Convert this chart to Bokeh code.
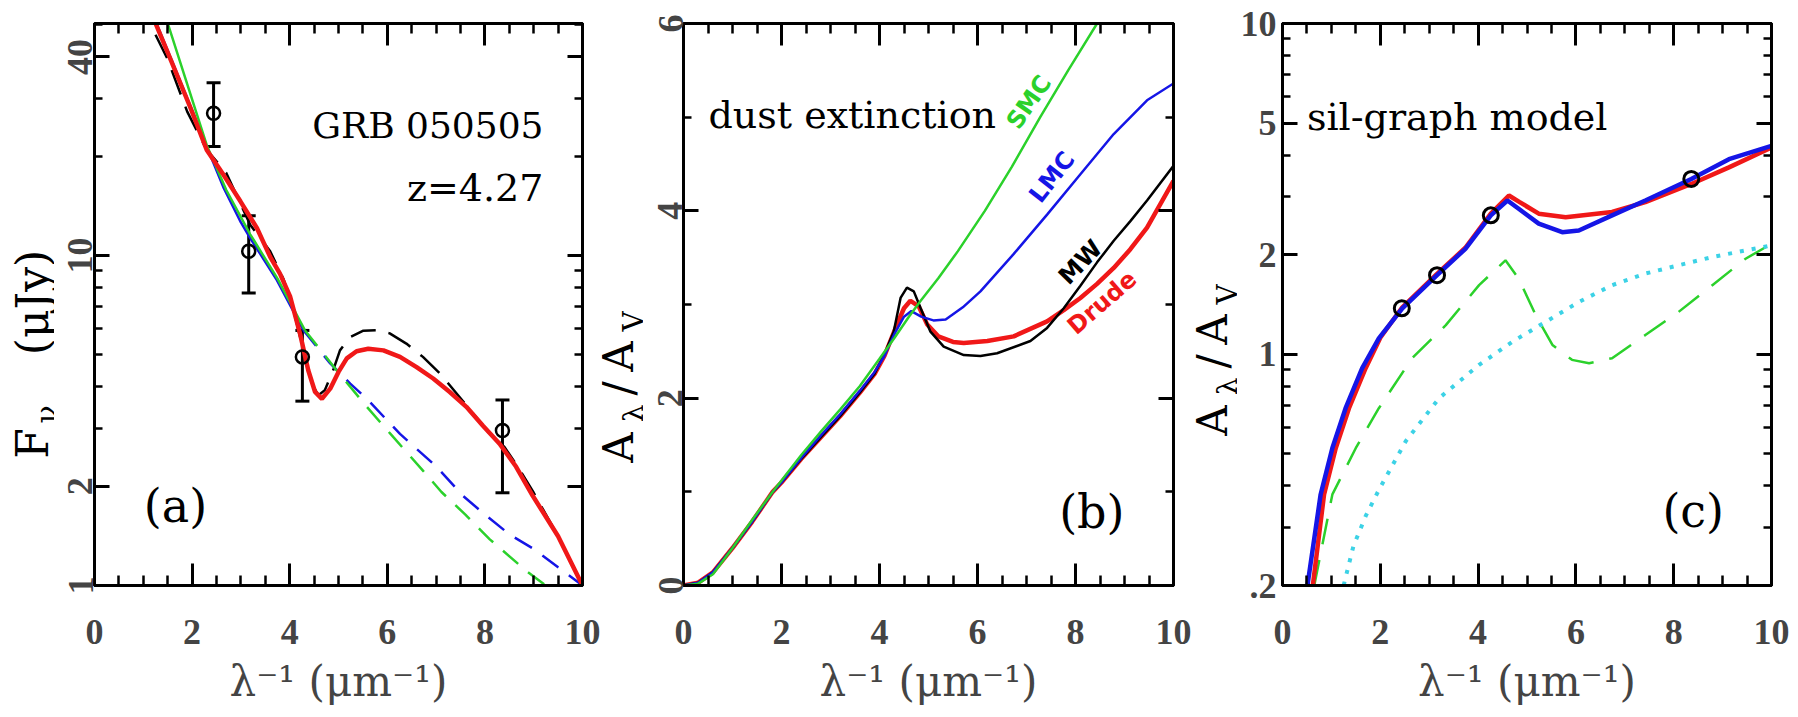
import math
from bokeh.plotting import figure
from bokeh.models import (FixedTicker, LinearAxis, LogAxis, Label, Whisker, TeeHead,
                          ColumnDataSource, CustomJSTickFormatter)
from bokeh.layouts import row
from bokeh.embed import file_html
from bokeh.resources import INLINE

# ---------------- data ----------------
# ticks
x_ticks = [0, 2, 4, 6, 8, 10]
x_minor = [0.5, 1, 1.5, 2.5, 3, 3.5, 4.5, 5, 5.5, 6.5, 7, 7.5, 8.5, 9, 9.5]
a_y_ticks = [1, 2, 10, 40]
a_y_minor = [3, 4, 5, 6, 7, 8, 9, 20, 30, 50]
b_y_ticks = [0, 2, 4, 6]
b_y_minor = [1, 3, 5]
c_y_ticks = [0.2, 1, 2, 5, 10]
c_y_minor = [0.3, 0.4, 0.5, 0.6, 0.7, 0.8, 0.9, 3, 4, 6, 7, 8, 9]

# panel (a): GRB 050505 photometry (micro-Jy)
obs_x = [2.44, 3.16, 4.26, 8.36]
obs_f = [27.0, 10.3, 4.93, 2.95]
obs_f_lo = [21.4, 7.7, 3.62, 1.91]
obs_f_hi = [33.4, 13.2, 5.93, 3.65]

a_red_x = [1.25, 1.55, 1.96, 2.30, 2.65, 2.99, 3.33, 3.60, 3.80, 4.01, 4.21, 4.38, 4.52, 4.66,
           4.83, 5.00, 5.17, 5.37, 5.61, 5.92, 6.26, 6.60, 6.94, 7.28, 7.62, 7.96, 8.30, 8.64,
           8.98, 9.5, 10.0]
a_red_f = [50.6, 39.6, 28.2, 20.9, 17.5, 14.6, 12.1, 9.91, 8.81, 7.50, 5.81, 4.49, 3.86, 3.68,
           3.95, 4.44, 4.88, 5.13, 5.22, 5.16, 4.93, 4.59, 4.24, 3.86, 3.48, 3.05, 2.69, 2.29,
           1.87, 1.41, 1.0]

a_black_x = [1.25, 1.49, 1.90, 2.30, 2.70, 3.19, 3.60, 3.87, 4.08, 4.28, 4.45, 4.59, 4.72, 4.89,
             5.03, 5.24, 5.51, 5.78, 6.05, 6.39, 6.73, 7.08, 7.42, 7.76, 8.10, 8.40, 8.70, 9.0,
             9.5, 10.0]
a_black_f = [46.7, 39.6, 27.3, 20.9, 17.8, 12.4, 10.3, 8.51, 6.82, 5.16, 4.09, 3.77, 3.91, 4.49,
             5.16, 5.66, 5.92, 5.94, 5.81, 5.41, 4.93, 4.39, 3.82, 3.32, 2.88, 2.63, 2.26, 1.91,
             1.41, 1.0]

a_blue_x = [1.28, 1.60, 1.96, 2.30, 2.65, 3.00, 3.19, 3.74, 4.28, 4.83, 5.24, 5.58, 6.26, 7.01,
            7.55, 8.0, 8.5, 9.0, 9.5, 10.0]
a_blue_f = [50.1, 38.5, 28.5, 21.4, 16.0, 12.6, 11.3, 8.41, 5.94, 4.71, 4.09, 3.68, 2.88, 2.29,
            1.87, 1.64, 1.43, 1.29, 1.135, 1.0]

a_green_x = [1.50, 1.90, 2.30, 2.70, 3.19, 3.75, 4.31, 4.96, 5.58, 6.12, 6.73, 7.11, 7.60, 8.10,
             8.87, 9.25]
a_green_f = [50.6, 33.1, 21.6, 15.8, 11.6, 8.51, 5.94, 4.49, 3.48, 2.82, 2.23, 1.92, 1.64, 1.38,
             1.10, 1.0]

# panel (b): extinction curves A_lambda / A_V
b_mw_x = [0.0, 0.3, 0.6, 1.0, 1.4, 1.82, 2.0, 2.4, 2.8, 3.2, 3.6, 3.9, 4.1, 4.29, 4.43, 4.56,
          4.70, 4.84, 5.04, 5.31, 5.72, 6.06, 6.40, 7.08, 7.42, 7.76, 8.10, 8.44, 8.78, 9.12,
          9.46, 10.0]
b_mw_y = [0.0, 0.03, 0.14, 0.40, 0.68, 1.00, 1.10, 1.35, 1.58, 1.81, 2.06, 2.26, 2.47, 2.71,
          3.07, 3.18, 3.14, 2.96, 2.71, 2.55, 2.46, 2.45, 2.48, 2.61, 2.75, 2.96, 3.20, 3.45,
          3.68, 3.89, 4.11, 4.48]

b_drude_x = [0.0, 0.3, 0.6, 1.0, 1.4, 1.82, 2.0, 2.4, 2.8, 3.2, 3.6, 3.9, 4.1, 4.36, 4.50, 4.63,
             4.80, 4.97, 5.2, 5.5, 5.72, 6.2, 6.74, 7.42, 7.76, 8.10, 8.44, 8.78, 9.12, 9.46,
             10.0]
b_drude_y = [0.0, 0.03, 0.14, 0.40, 0.68, 1.00, 1.10, 1.35, 1.58, 1.81, 2.06, 2.26, 2.45, 2.79,
             2.96, 3.04, 2.98, 2.79, 2.66, 2.60, 2.59, 2.61, 2.66, 2.82, 2.94, 3.07, 3.22, 3.39,
             3.59, 3.82, 4.32]

b_lmc_x = [0.0, 0.3, 0.6, 1.0, 1.4, 1.82, 2.0, 2.4, 2.8, 3.2, 3.6, 3.9, 4.1, 4.3, 4.5, 4.65,
           4.85, 5.1, 5.35, 5.7, 6.06, 6.74, 7.42, 8.10, 8.78, 9.46, 10.0]
b_lmc_y = [0.0, 0.03, 0.14, 0.40, 0.68, 1.00, 1.10, 1.36, 1.60, 1.83, 2.08, 2.28, 2.45, 2.68,
           2.87, 2.93, 2.87, 2.83, 2.84, 2.97, 3.14, 3.54, 3.96, 4.39, 4.82, 5.18, 5.36]

b_smc_x = [0.0, 0.3, 0.6, 1.0, 1.4, 1.82, 2.0, 2.4, 2.8, 3.2, 3.6, 4.0, 4.3, 4.6, 4.84, 5.2,
           5.6, 6.15, 6.7, 7.28, 7.85, 8.44, 8.7]
b_smc_y = [0.0, 0.02, 0.12, 0.40, 0.70, 1.00, 1.12, 1.39, 1.64, 1.88, 2.13, 2.42, 2.64, 2.87,
           3.04, 3.28, 3.57, 4.00, 4.47, 5.00, 5.50, 6.00, 6.22]

# panel (c): silicate-graphite model
c_obs_a = [1.377, 1.734, 2.63, 3.39]

c_blue_x = [0.51, 0.78, 1.02, 1.29, 1.63, 1.97, 2.45, 3.16, 3.74, 4.26, 4.60, 4.83, 5.24, 5.72,
            6.06, 6.74, 7.42, 8.36, 9.13, 10.0]
c_blue_a = [0.2, 0.377, 0.521, 0.687, 0.908, 1.117, 1.377, 1.734, 2.084, 2.63, 2.917, 2.754,
            2.483, 2.339, 2.366, 2.63, 2.917, 3.388, 3.89, 4.266]

c_red_x = [0.62, 0.85, 1.09, 1.36, 1.70, 2.0, 2.45, 3.16, 3.74, 4.26, 4.63, 4.85, 5.24, 5.79,
           6.74, 7.42, 8.36, 9.13, 10.0]
c_red_a = [0.2, 0.377, 0.521, 0.687, 0.908, 1.122, 1.387, 1.750, 2.099, 2.661, 3.02, 2.884,
           2.661, 2.594, 2.692, 2.884, 3.273, 3.673, 4.217]

c_green_x = [0.65, 1.02, 1.50, 1.97, 2.65, 3.34, 4.02, 4.56, 4.83, 5.18, 5.52, 5.92, 6.27, 6.74,
             7.42, 8.10, 8.79, 9.47, 10.0]
c_green_a = [0.2, 0.377, 0.521, 0.687, 0.973, 1.225, 1.618, 1.923, 1.694, 1.312, 1.067, 0.962,
             0.940, 0.973, 1.143, 1.343, 1.618, 1.945, 2.158]

c_cyan_x = [1.25, 1.45, 1.7, 1.97, 2.52, 3.20, 4.02, 4.70, 5.38, 6.06, 6.74, 7.42, 8.10, 8.79,
            9.47, 10.0]
c_cyan_a = [0.200, 0.263, 0.324, 0.389, 0.546, 0.736, 0.929, 1.091, 1.253, 1.439, 1.618, 1.754,
            1.858, 1.968, 2.061, 2.133]

# ---------------- style ----------------
SERIF = "DejaVu Serif"
TICKF = "Liberation Serif"
SANS = "DejaVu Sans"
RED = "#f01818"
BLUE = "#1515e6"
GREEN = "#2bd12b"
CYAN = "#3cd2e6"
TICK_FONT = "36px"
TOP = 23
FRAME_H = 562
FIG_H = 714
VERT = math.pi / 2


def style_axis(ax, major_in, minor_in, standoff, font_size=TICK_FONT, orientation=None):
    ax.axis_line_width = 3
    ax.axis_line_color = "black"
    ax.major_tick_in = major_in
    ax.major_tick_out = 0
    ax.minor_tick_in = minor_in
    ax.minor_tick_out = 0
    ax.major_tick_line_width = 3
    ax.minor_tick_line_width = 2.5
    ax.major_label_text_font = TICKF
    ax.major_label_text_font_style = "bold"
    ax.major_label_text_font_size = font_size
    ax.major_label_standoff = standoff
    if orientation is not None:
        ax.major_label_orientation = orientation


def make_fig(left, frame_w, right, y_log, y_range, y_ticks, y_minor, y_standoff, y_orient):
    p = figure(frame_width=frame_w, frame_height=FRAME_H,
               min_border_left=left, min_border_right=right,
               min_border_top=TOP, min_border_bottom=FIG_H - TOP - FRAME_H,
               x_range=(0, 10), y_range=y_range,
               y_axis_type="log" if y_log else "linear",
               output_backend="svg", toolbar_location=None)
    p.grid.visible = False
    p.outline_line_color = "black"
    p.outline_line_width = 3
    p.background_fill_color = "white"
    p.border_fill_color = "white"

    xa = p.xaxis[0]
    xa.ticker = FixedTicker(ticks=x_ticks, minor_ticks=x_minor)
    style_axis(xa, 22, 10, 34)
    xa.axis_label = "λ⁻¹ (μm⁻¹)"
    xa.axis_label_text_font = SERIF
    xa.axis_label_text_font_style = "normal"
    xa.axis_label_text_font_size = "42px"
    xa.axis_label_standoff = 10

    ya = p.yaxis[0]
    ya.ticker = FixedTicker(ticks=y_ticks, minor_ticks=y_minor)
    ya.formatter = CustomJSTickFormatter(code="return tick.toString().replace(/^0\\./, '.')")
    style_axis(ya, 15, 8, y_standoff, orientation=y_orient)

    top = LinearAxis(ticker=FixedTicker(ticks=x_ticks, minor_ticks=x_minor))
    right_ax = (LogAxis if y_log else LinearAxis)(ticker=FixedTicker(ticks=y_ticks, minor_ticks=y_minor))
    for ax, mj, mn in ((top, 22, 10), (right_ax, 15, 8)):
        style_axis(ax, mj, mn, 0, font_size="0px")
        ax.formatter = CustomJSTickFormatter(code="return ''")
    p.add_layout(top, "above")
    p.add_layout(right_ax, "right")
    return p


def label_fig(width, items):
    """Narrow strip holding a rotated y-axis title; items: (x_px, y_px_from_top, text, size)."""
    f = figure(frame_width=width, frame_height=FIG_H, min_border=0,
               min_border_left=0, min_border_right=0, min_border_top=0, min_border_bottom=0,
               x_range=(0, width), y_range=(0, FIG_H),
               x_axis_location=None, y_axis_location=None,
               output_backend="svg", toolbar_location=None)
    f.grid.visible = False
    f.outline_line_color = None
    f.background_fill_color = "white"
    f.border_fill_color = "white"
    for x, y, s, size in items:
        f.add_layout(Label(x=x, y=FIG_H - y, text=s, angle=VERT, text_font=SERIF,
                           text_font_size=size, text_align="center", text_baseline="middle",
                           text_color="black"))
    return f


def text(p, x, y, s, size, font=SERIF, color="black", align="left", baseline="alphabetic",
         angle=0.0, style="normal"):
    p.add_layout(Label(x=x, y=y, text=s, text_font=font, text_font_size=size,
                       text_color=color, text_align=align, text_baseline=baseline,
                       angle=angle, text_font_style=style))


# ---------------- panel (a) ----------------
la = label_fig(54, [(32, 420, "F", "44px"), (46, 391, "ν", "30px"), (32, 279, "(μJy)", "44px")])
pa = make_fig(40, 488, 19, True, (1, 50.5), a_y_ticks, a_y_minor, 2, "vertical")
pa.line(a_black_x, a_black_f, line_color="black", line_width=2.5, line_dash="26 13")
pa.line(a_blue_x[:9], a_blue_f[:9], line_color=BLUE, line_width=2.5)
pa.line(a_blue_x[8:], a_blue_f[8:], line_color=BLUE, line_width=2.5, line_dash="20 13")
pa.line(a_green_x[:7], a_green_f[:7], line_color=GREEN, line_width=2.5)
pa.line(a_green_x[6:], a_green_f[6:], line_color=GREEN, line_width=2.5, line_dash="20 13")
pa.line(a_red_x, a_red_f, line_color=RED, line_width=4.5)
src_a = ColumnDataSource(dict(x=obs_x, lo=obs_f_lo, hi=obs_f_hi))
pa.add_layout(Whisker(source=src_a, base="x", lower="lo", upper="hi",
                      line_width=3, line_color="black",
                      upper_head=TeeHead(size=14, line_width=3, line_color="black"),
                      lower_head=TeeHead(size=14, line_width=3, line_color="black")))
pa.scatter(obs_x, obs_f, marker="circle", size=13, fill_alpha=0,
           line_color="black", line_width=2.5)
text(pa, 9.2, 24.75, "GRB 050505", "36px", align="right")
text(pa, 9.2, 16.07, "z=4.27", "38px", align="right")
text(pa, 1.01, 1.737, "(a)", "46px", baseline="middle")

# ---------------- panel (b) ----------------
lb = label_fig(42, [(17, 424, "A", "42px"), (32, 390, "λ", "28px"), (17, 365, "/", "42px"),
                    (17, 333, "A", "42px"), (32, 298, "V", "28px")])
pb = make_fig(40, 490, 19, False, (0, 6), b_y_ticks, b_y_minor, 1, "vertical")
pb.line(b_drude_x, b_drude_y, line_color=RED, line_width=4.5)
pb.line(b_mw_x, b_mw_y, line_color="black", line_width=2.5)
pb.line(b_lmc_x, b_lmc_y, line_color=BLUE, line_width=2.5)
pb.line(b_smc_x, b_smc_y, line_color=GREEN, line_width=2.5)
text(pb, 0.51, 5.02, "dust extinction", "38px")
text(pb, 9.0, 0.79, "(b)", "46px", align="right", baseline="middle")
text(pb, 7.05, 5.16, "SMC", "24px", font=SANS, color=GREEN, align="center", baseline="middle",
     angle=math.radians(55), style="bold")
text(pb, 7.52, 4.36, "LMC", "24px", font=SANS, color=BLUE, align="center", baseline="middle",
     angle=math.radians(52), style="bold")
text(pb, 8.10, 3.45, "MW", "24px", font=SANS, color="black", align="center", baseline="middle",
     angle=math.radians(46), style="bold")
text(pb, 8.54, 3.02, "Drude", "24px", font=SANS, color=RED, align="center", baseline="middle",
     angle=math.radians(41), style="bold")

# ---------------- panel (c) ----------------
lc = label_fig(45, [(20, 397, "A", "42px"), (35, 363, "λ", "28px"), (20, 338, "/", "42px"),
                    (20, 306, "A", "42px"), (35, 271, "V", "28px")])
pc = make_fig(42, 489, 30, True, (0.2, 10), c_y_ticks, c_y_minor, 6, None)
pc.line(c_green_x, c_green_a, line_color=GREEN, line_width=2.5, line_dash="26 16")
pc.line(c_cyan_x, c_cyan_a, line_color=CYAN, line_width=4, line_dash="4 8")
pc.line(c_red_x, c_red_a, line_color=RED, line_width=4.5)
pc.line(c_blue_x, c_blue_a, line_color=BLUE, line_width=4.5)
pc.scatter(obs_x, c_obs_a, marker="circle", size=15, fill_alpha=0,
           line_color="black", line_width=3)
text(pc, 0.50, 5.2, "sil-graph model", "38px")
text(pc, 9.03, 0.337, "(c)", "46px", align="right", baseline="middle")

layout = row(la, pa, lb, pb, lc, pc)
open("out.html", "w").write(file_html(layout, INLINE))
